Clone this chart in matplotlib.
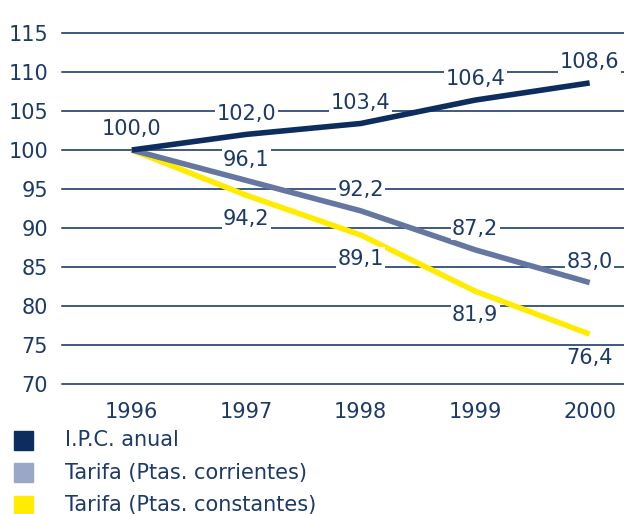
import matplotlib.pyplot as plt

years = [1996, 1997, 1998, 1999, 2000]
ipc = [100.0, 102.0, 103.4, 106.4, 108.6]
tarifa_corr = [100.0, 96.1, 92.2, 87.2, 83.0]
tarifa_const = [100.0, 94.2, 89.1, 81.9, 76.4]
yticks = [70, 75, 80, 85, 90, 95, 100, 105, 110, 115]
legend_labels = ['I.P.C. anual', 'Tarifa (Ptas. corrientes)', 'Tarifa (Ptas. constantes)']

navy = '#0c2d5e'
grey_line = '#6577a0'
grey_box = '#9aa7c6'
yellow = '#ffec00'
text_col = '#1b3a68'
fs = 15

plt.rcParams['font.family'] = ['DejaVu Sans']

fig = plt.figure(figsize=(6.24, 5.14), dpi=100)
ax = fig.add_axes([62 / 624, (514 - 384) / 514, 1 - 62 / 624, (384 - 33) / 514])

for y in yticks:
    ax.axhline(y, color=navy, lw=1.1, zorder=1, clip_on=False)

ax.plot(years, ipc, color=navy, lw=4, zorder=4, solid_capstyle='butt')
ax.plot(years, tarifa_corr, color=grey_line, lw=4, zorder=3, solid_capstyle='butt')
ax.plot(years, tarifa_const, color=yellow, lw=4, zorder=2, solid_capstyle='butt')

ax.set_xlim(1996 - 0.61, 2000 + 0.3)
ax.set_ylim(70, 115)
for s in ax.spines.values():
    s.set_visible(False)
ax.set_yticks(yticks)
ax.set_yticklabels([str(y) for y in yticks], fontsize=fs, color=text_col)
ax.set_xticks(years)
ax.set_xticklabels([str(y) for y in years], fontsize=fs, color=text_col)
ax.tick_params(length=0)
ax.tick_params(axis='y', pad=10)
ax.tick_params(axis='x', pad=13)

def fmt(v):
    return f'{v:.1f}'.replace('.', ',')

bbox = dict(facecolor='white', edgecolor='none', pad=1)
for x, v in zip(years, ipc):
    ax.annotate(fmt(v), (x, v), xytext=(0, 15), textcoords='offset points',
                ha='center', va='center', fontsize=fs, color=text_col, bbox=bbox, zorder=5)
for x, v in zip(years[1:], tarifa_corr[1:]):
    ax.annotate(fmt(v), (x, v), xytext=(0, 15), textcoords='offset points',
                ha='center', va='center', fontsize=fs, color=text_col, bbox=bbox, zorder=5)
for x, v in zip(years[1:], tarifa_const[1:]):
    ax.annotate(fmt(v), (x, v), xytext=(0, -17), textcoords='offset points',
                ha='center', va='center', fontsize=fs, color=text_col, bbox=bbox, zorder=5)

for i, (lab, c) in enumerate(zip(legend_labels, [navy, grey_box, yellow])):
    yc = 440 + i * 32.5
    fig.patches.append(plt.Rectangle((14 / 624, 1 - (yc + 9.5) / 514), 19 / 624, 19 / 514,
                                     transform=fig.transFigure, color=c))
    fig.text(65 / 624, 1 - yc / 514, lab, fontsize=fs, color=text_col, va='center', ha='left')

fig.savefig('out.png', dpi=100)
